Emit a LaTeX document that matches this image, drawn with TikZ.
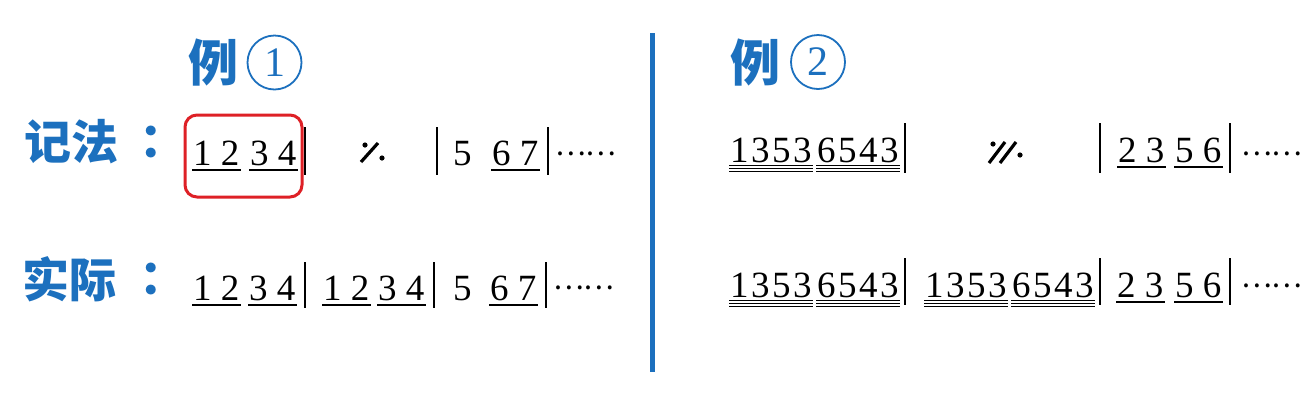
\documentclass[tikz,border=0pt]{standalone}
\usepackage{fontspec}
\setmainfont{Liberation Serif}
\newfontfamily\cjk{Noto Sans CJK SC}
\newfontfamily\cjkheavy{Noto Sans CJK SC Black}
\definecolor{hblue}{RGB}{28,112,190}
\definecolor{hred}{RGB}{222,32,38}
\tikzset{
  num/.style={font=\fontsize{37}{37}\selectfont, inner sep=0pt, anchor=base west},
  uline/.style={line width=1.4pt},
  tline/.style={line width=0.9pt},
  barline/.style={line width=1.8pt},
  dotsnode/.style={font=\cjk\fontsize{29}{29}\selectfont, inner sep=0pt, anchor=base west},
  titlech/.style={font=\cjkheavy\fontsize{50}{50}\selectfont, text=hblue, inner sep=0pt},
  lab/.style={font=\cjkheavy\fontsize{47}{47}\selectfont, text=hblue, inner sep=0pt},
  circnum/.style={circle, draw=hblue, line width=1.8pt, minimum size=54pt, inner sep=0pt, text=hblue, font=\fontsize{42}{42}\selectfont},
  simile/.style={line width=3.2pt},
}
\newcommand\grp[4]{\node[num] (#1) at (#2,#3) {#4};
  \draw[uline] ([xshift=-1pt,yshift=-5pt]#1.base west) -- ([xshift=1pt,yshift=-5pt]#1.base east);}
\newcommand\tgrp[4]{\node[num] (#1) at (#2,#3) {#4};
  \foreach \d in {3,6,9} {\draw[tline] ([xshift=-1pt,yshift=-\d pt]#1.base west) -- ([xshift=1pt,yshift=-\d pt]#1.base east);}}
\newcommand\kk{\kern2.5pt }
\begin{document}
\begin{tikzpicture}[x=1pt,y=-1pt]
\useasboundingbox (0,0) rectangle (1314,408);
\fill[white] (0,0) rectangle (1314,408);
% titles
\node[titlech] (t1) at (213,63) {例};
\node[circnum] (c1) at (274.5,62.5) {1};
\node[titlech] (t2) at (755,62.5) {例};
\node[circnum] (c2) at (818,62) {2};
% labels
\node[lab] (l1) at (71,142) {记法};
\node[lab] (l1c) at (163,142) {：};
\node[lab] (l2) at (70,279) {实际};
\node[lab] (l2c) at (163,279) {：};
% divider
\draw[hblue, line width=5pt] (652,33) -- (652,372);
% red box
\draw[hred, line width=3pt, rounded corners=12pt] (185,115) rectangle (302,197);
% ---- left row 1
\grp{a1}{193}{165}{1 2}
\grp{a2}{250}{165}{3 4}
\draw[barline] (305,127) -- (305,175);
\draw[simile] (361,162) -- (378,143);
\fill (365,145) circle (2.6);
\fill (382,158) circle (2.6);
\draw[barline] (437,127) -- (437,175);
\node[num] (a3) at (453,165) {5};
\grp{a4}{492}{165}{6 7}
\draw[barline] (548,127) -- (548,175);
\node[dotsnode] (a5) at (555,155) {……};
% ---- left row 2
\grp{b1}{193}{300}{1 2}
\grp{b2}{249}{300}{3 4}
\draw[barline] (305,262) -- (305,308);
\grp{b3}{323}{300}{1 2}
\grp{b4}{378}{300}{3 4}
\draw[barline] (434,262) -- (434,308);
\node[num] (b5) at (453,300) {5};
\grp{b6}{490}{300}{6 7}
\draw[barline] (546,262) -- (546,308);
\node[dotsnode] (b7) at (553,289) {……};
% ---- right row 1
\tgrp{c1a}{730}{162}{1\kk3\kk5\kk3}
\tgrp{c1b}{817}{162}{6\kk5\kk4\kk3}
\draw[barline] (905,123) -- (905,173);
\draw[simile] (989,163) -- (1005,142);
\draw[simile] (1000,163) -- (1016,142);
\fill (993,144) circle (2.6);
\fill (1020,155) circle (2.6);
\draw[barline] (1100,123) -- (1100,173);
\grp{c1c}{1118}{162}{2 3}
\grp{c1d}{1175}{162}{5 6}
\draw[barline] (1230,123) -- (1230,173);
\node[dotsnode] (c1e) at (1241,155) {……};
% ---- right row 2
\tgrp{d1}{730}{297}{1\kk3\kk5\kk3}
\tgrp{d2}{817}{297}{6\kk5\kk4\kk3}
\draw[barline] (905,258) -- (905,305);
\tgrp{d3}{925}{297}{1\kk3\kk5\kk3}
\tgrp{d4}{1012}{297}{6\kk5\kk4\kk3}
\draw[barline] (1100,258) -- (1100,305);
\grp{d5}{1117}{297}{2 3}
\grp{d6}{1175}{297}{5 6}
\draw[barline] (1230,258) -- (1230,305);
\node[dotsnode] (d7) at (1241,287) {……};
\end{tikzpicture}
\end{document}
